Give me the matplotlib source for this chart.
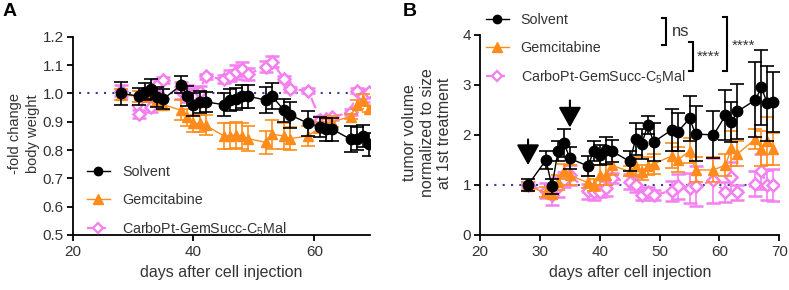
import numpy as np
import matplotlib
matplotlib.use("Agg")
import matplotlib.pyplot as plt
from matplotlib.lines import Line2D

plt.rcParams['font.family'] = ['Liberation Sans', 'DejaVu Sans']
plt.rcParams['font.size'] = 10
plt.rcParams['text.color'] = '#333333'
plt.rcParams['axes.labelcolor'] = '#333333'
plt.rcParams['xtick.color'] = 'black'
plt.rcParams['ytick.color'] = 'black'
plt.rcParams['xtick.labelcolor'] = '#333333'
plt.rcParams['ytick.labelcolor'] = '#333333'

# days of measurement (same for both panels)
days = [28, 31, 32, 33, 34, 35, 38, 39, 40, 41, 42, 45, 46, 47, 48, 49,
        52, 53, 55, 56, 59, 61, 62, 63, 66, 67, 68, 69]

# panel A: -fold change body weight
bw_solvent = [1.0, 0.99, 1.006, 1.014, 0.986, 0.98, 1.03, 0.99, 0.96, 0.97, 0.97, 0.96,
              0.976, 0.98, 0.99, 0.99, 0.976, 0.99, 0.94, 0.924, 0.894, 0.882, 0.873, 0.873,
              0.838, 0.84, 0.85, 0.82]
bw_solvent_err = [0.04, 0.03, 0.03, 0.035, 0.035, 0.035, 0.03, 0.035, 0.04, 0.04, 0.035, 0.04,
                  0.04, 0.04, 0.04, 0.04, 0.045, 0.045, 0.04, 0.045, 0.045, 0.035, 0.04, 0.04,
                  0.045, 0.04, 0.04, 0.04]
bw_gem = [0.995, 0.99, 0.99, 0.995, 0.975, 0.96, 0.94, 0.915, 0.894, 0.894, 0.887, 0.85,
          0.85, 0.853, 0.85, 0.84, 0.827, 0.855, 0.85, 0.84, 0.85, 0.88, 0.89, 0.9,
          0.918, 0.96, 0.976, 0.944]
bw_gem_err = [0.02, 0.02, 0.02, 0.02, 0.02, 0.02, 0.035, 0.03, 0.03, 0.03, 0.035, 0.045,
              0.045, 0.045, 0.045, 0.045, 0.04, 0.05, 0.045, 0.04, 0.035, 0.02, 0.02, 0.02,
              0.01, 0.015, 0.02, 0.01]
bw_carbo = [1.01, 0.927, 0.995, 0.953, 1.03, 1.047, 1.01, 1.0, 0.995, 1.005, 1.06, 1.05,
            1.062, 1.076, 1.085, 1.068, 1.094, 1.112, 1.05, 1.014, 1.01, 0.906, 0.91, 0.915,
            0.935, 1.01, 0.99, 1.006]
bw_carbo_err = [0.02, 0.015, 0.02, 0.02, 0.02, 0.01, 0.03, 0.03, 0.025, 0.02, 0.01, 0.015,
                0.02, 0.025, 0.025, 0.02, 0.02, 0.02, 0.01, 0.01, 0.01, 0.015, 0.01, 0.01,
                0.01, 0.01, 0.02, 0.01]

# panel B: tumor volume normalized to size at 1st treatment
tv_solvent = [1.0, 1.5, 0.97, 1.67, 1.84, 1.53, 1.38, 1.68, 1.59, 1.69, 1.68, 1.47,
              1.92, 1.81, 2.2, 1.86, 2.1, 2.06, 2.33, 2.02, 2.0, 2.39, 2.26, 2.47,
              2.7, 2.95, 2.63, 2.66]
tv_solvent_err = [0.12, 0.18, 0.15, 0.2, 0.28, 0.22, 0.2, 0.2, 0.2, 0.27, 0.22, 0.2,
                  0.32, 0.3, 0.18, 0.38, 0.42, 0.38, 0.45, 0.55, 0.47, 0.5, 0.4, 0.55,
                  0.75, 0.75, 0.75, 0.6]
tv_gem = [0.97, 0.85, 0.82, 1.05, 1.27, 1.19, 1.05, 0.99, 1.19, 1.19, 1.39, 1.27,
          1.37, 1.25, 1.37, 1.42, 1.58, 1.5, 1.68, 1.3, 1.3, 1.4, 1.73, 1.62,
          1.92, 1.72, 1.87, 1.72]
tv_gem_err = [0.08, 0.1, 0.08, 0.15, 0.15, 0.2, 0.12, 0.12, 0.2, 0.2, 0.2, 0.1,
              0.18, 0.15, 0.18, 0.2, 0.25, 0.25, 0.25, 0.25, 0.25, 0.22, 0.35, 0.25,
              0.2, 0.35, 0.48, 0.32]
tv_carbo = [1.0, 0.88, 0.8, 0.95, 1.1, 1.2, 0.87, 0.85, 0.85, 0.93, 1.13, 1.06,
            1.0, 0.79, 0.86, 0.8, 0.88, 0.97, 0.93, 0.97, 1.09, 0.85, 1.15, 0.85,
            1.02, 1.27, 1.0, 1.0]
tv_carbo_err = [0.05, 0.15, 0.2, 0.2, 0.15, 0.2, 0.15, 0.15, 0.1, 0.15, 0.1, 0.15,
                0.15, 0.1, 0.1, 0.1, 0.2, 0.25, 0.3, 0.4, 0.45, 0.2, 0.3, 0.15,
                0.25, 0.35, 0.3, 0.32]

labels = ['Solvent', 'Gemcitabine', r'CarboPt-GemSucc-C$_\mathregular{5}$Mal']
c_solv = 'black'
c_gem = '#FF8C1A'
c_carbo = '#F47FF0'
c_ref = '#3B3B9B'
dash = (0, (5, 3))


def draw_series(ax, y_solv, e_solv, y_gem, e_gem, y_carbo, e_carbo):
    ax.errorbar(days, y_carbo, yerr=e_carbo, color=c_carbo, marker='D', ms=6.2,
                mfc='white', mec=c_carbo, mew=1.8, lw=1.6, ls=dash,
                capsize=5, capthick=1.2, elinewidth=1.2, zorder=3)
    ax.errorbar(days, y_gem, yerr=e_gem, color=c_gem, marker='^', ms=7.5,
                lw=1.0, capsize=5, capthick=1.2, elinewidth=1.2, zorder=4)
    ax.errorbar(days, y_solv, yerr=e_solv, color=c_solv, marker='o', ms=7.5,
                lw=1.0, capsize=5, capthick=1.2, elinewidth=1.2, zorder=5)


def style_axes(ax):
    for s in ['top', 'right']:
        ax.spines[s].set_visible(False)
    for s in ['left', 'bottom']:
        ax.spines[s].set_linewidth(1.3)
    ax.tick_params(width=1.3, length=4.5, pad=2, labelsize=11)
    ax.tick_params(axis='x', pad=3)


def add_legend(fig, x, y):
    handles = [
        Line2D([], [], color=c_solv, marker='o', ms=6, lw=1.0),
        Line2D([], [], color=c_gem, marker='^', ms=6.5, lw=1.0),
        Line2D([], [], color=c_carbo, marker='D', ms=5, mfc='white', mew=1.6,
               lw=1.6, ls=(0, (3, 2.5))),
    ]
    fig.legend(handles, labels, loc='upper left', bbox_to_anchor=(x, y), frameon=False,
               handlelength=1.6, handletextpad=0.85, labelspacing=0.95,
               borderpad=0, borderaxespad=0, fontsize=10.3)


fig = plt.figure(figsize=(7.89, 2.90), dpi=100)

# panel A
axA = fig.add_axes([0.0921, 0.1897, 0.3767, 0.6838])
axA.hlines(1.0, 21, 69, colors=c_ref, linestyles=(0, (1, 3)), lw=1.5, zorder=2)
draw_series(axA, bw_solvent, bw_solvent_err, bw_gem, bw_gem_err, bw_carbo, bw_carbo_err)
axA.set_xlim(20, 69.2)
axA.set_ylim(0.5, 1.2)
axA.set_xticks([20, 40, 60])
axA.set_yticks(np.arange(0.5, 1.21, 0.1))
axA.set_yticklabels(['%.1f' % v for v in np.arange(0.5, 1.21, 0.1)])
style_axes(axA)
axA.set_xlabel('days after cell injection', fontsize=11.5, labelpad=4)
fig.text(24 / 789, 1 - 134 / 290, '-fold change\nbody weight', rotation=90,
         ha='center', va='center', multialignment='center', fontsize=10.5,
         linespacing=1.4)
add_legend(fig, 87 / 789, 1 - 165 / 290)

# panel B
axB = fig.add_axes([0.6086, 0.1897, 0.3791, 0.6897])
axB.hlines(1.0, 21, 69, colors=c_ref, linestyles=(0, (1, 3)), lw=1.5, zorder=2)
draw_series(axB, tv_solvent, tv_solvent_err, tv_gem, tv_gem_err, tv_carbo, tv_carbo_err)
axB.set_xlim(20, 70)
axB.set_ylim(0, 4)
axB.set_xticks([20, 30, 40, 50, 60, 70])
axB.set_yticks([0, 1, 2, 3, 4])
style_axes(axB)
axB.set_xlabel('days after cell injection', fontsize=11.5, labelpad=4)
fig.text(427 / 789, 1 - 133 / 290, 'tumor volume\nnormalized to size\nat 1st treatment',
         rotation=90, ha='center', va='center', multialignment='center', fontsize=11.5)
add_legend(fig, 485.7 / 789, 1 - 13 / 290)

# treatment arrows
for d, y0, y1 in [(28, 1.91, 1.40), (35, 2.69, 2.15)]:
    axB.annotate('', xy=(d, y1), xytext=(d, y0),
                 arrowprops=dict(arrowstyle='-|>,head_length=0.45,head_width=0.25',
                                 color='black', lw=1.5,
                                 mutation_scale=28, shrinkA=0, shrinkB=0))

# significance brackets
tick = 0.7
for x, ytop, ybot in [(51.07, 4.33, 3.80), (55.53, 3.85, 3.27), (61.32, 4.35, 3.27)]:
    axB.plot([x - tick, x, x, x - tick], [ytop, ytop, ybot, ybot], color='black',
             lw=1.5, clip_on=False, solid_joinstyle='miter')
axB.text(52.0, 3.97, 'ns', fontsize=12, ha='left', va='baseline')
axB.text(56.2, 3.48, '****', fontsize=11, ha='left', va='baseline')
axB.text(62.0, 3.71, '****', fontsize=11, ha='left', va='baseline')

fig.text(3 / 789, 1 - 3 / 290, 'A', fontsize=14, fontweight='bold', color='black',
         ha='left', va='top')
fig.text(403 / 789, 1 - 3 / 290, 'B', fontsize=14, fontweight='bold', color='black',
         ha='left', va='top')

fig.savefig('out.png', dpi=100)
